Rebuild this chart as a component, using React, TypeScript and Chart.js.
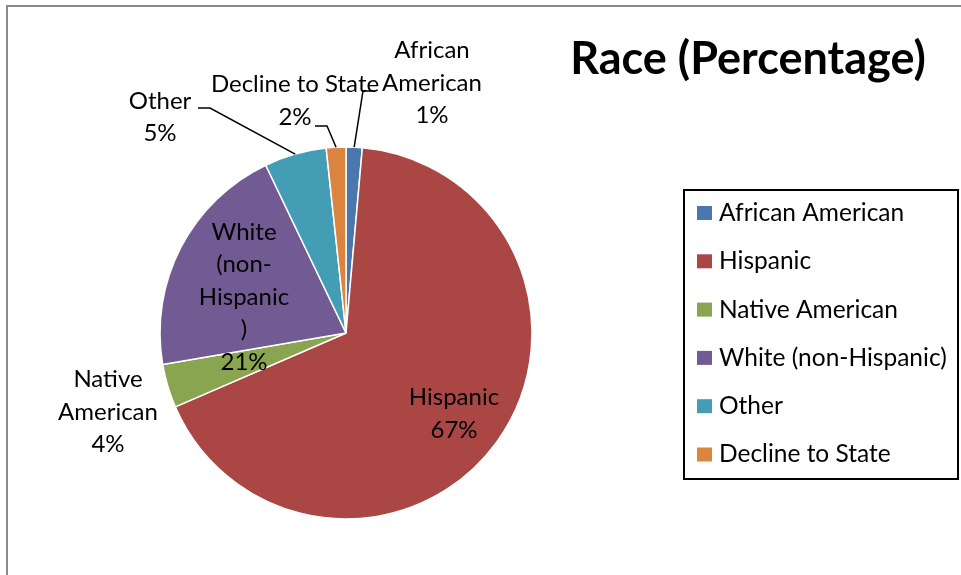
import React, { useEffect, useRef } from "react";
import { Chart, registerables } from "chart.js";

Chart.register(...registerables);

const chartTitle = "Race (Percentage)";
const categories = [
  "African American",
  "Hispanic",
  "Native American",
  "White (non-Hispanic)",
  "Other",
  "Decline to State",
];
const percentages = [1.4, 67.1, 3.8, 20.6, 5.4, 1.7];
const sliceColors = ["#4A77AE", "#AA4744", "#8AA54F", "#725A93", "#439DB5", "#DB8440"];
const labelNameLines = [
  ["African", "American"],
  ["Hispanic"],
  ["Native", "American"],
  ["White", "(non-", "Hispanic", ")"],
  ["Other"],
  ["Decline to State"],
];

const FONT = "Lato, 'Open Sans', sans-serif";
const LABEL_SIZE = 24;
const LINE_H = 32.5;

// label block centres and leader-line elbows, relative to the pie centre (px)
const labelLayout = [
  { dx: 86, dy: -250, leader: [[17, -242], [29, -242]] },
  { dx: 108, dy: 81, leader: null },
  { dx: -238, dy: 79, leader: null },
  { dx: -102, dy: -36, leader: null },
  { dx: -186, dy: -215.5, leader: [[-136, -225], [-148, -225]] },
  { dx: -51, dy: -232, leader: [[-19, -207], [-31, -207]] },
];

const decorPlugin = {
  id: "decor",
  beforeDraw(chart: any) {
    const ctx = chart.ctx;
    ctx.save();
    ctx.fillStyle = "#ffffff";
    ctx.fillRect(0, 0, chart.width, chart.height);
    ctx.strokeStyle = "#8a8a8a";
    ctx.lineWidth = 2;
    ctx.beginPath();
    ctx.moveTo(7, chart.height);
    ctx.lineTo(7, 6);
    ctx.lineTo(chart.width, 6);
    ctx.stroke();
    ctx.restore();
  },
  afterDatasetsDraw(chart: any) {
    const ctx = chart.ctx;
    const meta = chart.getDatasetMeta(0);
    const data = chart.data.datasets[0].data as number[];
    ctx.save();
    // title
    ctx.fillStyle = "#000";
    ctx.font = `bold 45px ${FONT}`;
    ctx.textAlign = "center";
    ctx.textBaseline = "alphabetic";
    ctx.fillText(chartTitle, 748, 74);

    // data labels
    ctx.textBaseline = "middle";
    ctx.font = `${LABEL_SIZE}px ${FONT}`;
    meta.data.forEach((arc: any, i: number) => {
      const cx = arc.x;
      const cy = arc.y;
      const lay = labelLayout[i];
      const lines = [...labelNameLines[i], Math.round(data[i]) + "%"];
      const bx = cx + lay.dx;
      const by = cy + lay.dy;
      const top = by - ((lines.length - 1) * LINE_H) / 2;
      lines.forEach((t, k) => ctx.fillText(t, bx, top + k * LINE_H));
      if (lay.leader) {
        const mid = (arc.startAngle + arc.endAngle) / 2;
        const ex = cx + Math.cos(mid) * arc.outerRadius;
        const ey = cy + Math.sin(mid) * arc.outerRadius;
        ctx.strokeStyle = "#000";
        ctx.lineWidth = 1.5;
        ctx.beginPath();
        ctx.moveTo(ex, ey);
        lay.leader.forEach((p) => ctx.lineTo(cx + p[0], cy + p[1]));
        ctx.stroke();
      }
    });

    // legend
    ctx.strokeStyle = "#000";
    ctx.lineWidth = 2;
    ctx.strokeRect(684, 190, 274, 289);
    ctx.textAlign = "left";
    ctx.font = `24.5px ${FONT}`;
    chart.data.labels.forEach((lab: string, i: number) => {
      const y = 213 + i * 48.3;
      ctx.fillStyle = sliceColors[i];
      ctx.fillRect(697, y - 7, 15, 14);
      ctx.fillStyle = "#000";
      ctx.fillText(lab, 719, y);
    });
    ctx.restore();
  },
};

export default function App() {
  const ref = useRef<HTMLCanvasElement | null>(null);
  useEffect(() => {
    if (!ref.current) return;
    const chart = new Chart(ref.current, {
      type: "pie",
      data: {
        labels: categories,
        datasets: [
          {
            data: percentages,
            backgroundColor: sliceColors,
            borderColor: "#ffffff",
            borderWidth: 1.5,
          },
        ],
      },
      options: {
        responsive: false,
        animation: false,
        radius: 186,
        layout: { padding: { left: 160, right: 429, top: 147, bottom: 56 } },
        plugins: {
          legend: { display: false },
          title: { display: false },
          tooltip: { enabled: false },
        },
      } as any,
      plugins: [decorPlugin],
    });
    return () => chart.destroy();
  }, []);
  return (
    <div style={{ position: "absolute", left: 0, top: 0, width: 961, height: 575 }}>
      <canvas ref={ref} width={961} height={575} />
    </div>
  );
}
